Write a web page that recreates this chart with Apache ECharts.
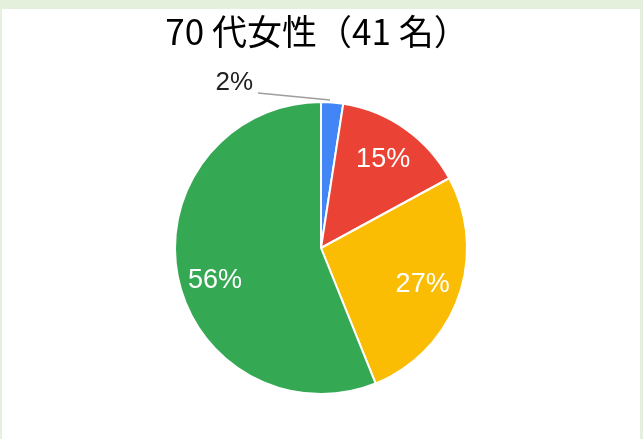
<!DOCTYPE html>
<html>
<head>
<meta charset="utf-8">
<script src="https://cdn.jsdelivr.net/npm/echarts@6/dist/echarts.min.js"></script>
<style>
  html, body { margin: 0; padding: 0; width: 643px; height: 439px; background: #e4efdc; overflow: hidden; }
  #chart { position: absolute; left: 2px; top: 9px; width: 638px; height: 430px; background: #fff; }
</style>
</head>
<body>
<div id="chart"></div>
<script>
// 70代女性 41名の内訳（人数）
const names = ['A', 'B', 'C', 'D'];
const counts = [1, 6, 11, 23];
const colors = ['#4285f4', '#ea4335', '#fbbc04', '#34a853'];
const titleText = '70 代女性（41 名）';

const chart = echarts.init(document.getElementById('chart'));

const baseData = names.map((n, i) => ({
  name: n,
  value: counts[i],
  itemStyle: { color: colors[i] }
}));

const option = {
  animation: false,
  title: {
    text: titleText,
    left: 310,
    textAlign: 'center',
    top: 0,
    textStyle: {
      fontFamily: 'Noto Sans CJK JP',
      fontSize: 35,
      fontWeight: 'normal',
      color: '#000'
    }
  },
  series: [
    {
      type: 'pie',
      center: [319, 239],
      radius: 146,
      startAngle: 90,
      clockwise: true,
      percentPrecision: 0,
      itemStyle: { borderColor: '#fff', borderWidth: 2 },
      label: { show: false },
      labelLine: { show: false },
      emphasis: { disabled: true },
      data: baseData.map((d, i) => i === 0 ? Object.assign({}, d, {
        label: {
          show: true,
          position: 'outside',
          formatter: '{d}%',
          color: '#222',
          fontFamily: 'Liberation Sans',
          fontSize: 26
        },
        labelLine: {
          show: true,
          length: 4,
          length2: 60,
          lineStyle: { color: '#9e9e9e', width: 1.5 }
        }
      }) : d),
      labelLayout: function (p) {
        if (p.dataIndex === 0) {
          return {
            x: 251, y: 74, align: 'right', verticalAlign: 'middle',
            labelLinePoints: [[328, 91], [292, 87.5], [256, 84]]
          };
        }
      }
    },
    {
      type: 'pie',
      center: [319, 239],
      radius: [64, 146],
      startAngle: 90,
      clockwise: true,
      percentPrecision: 0,
      silent: true,
      itemStyle: { color: 'rgba(0,0,0,0)' },
      label: {
        show: true,
        position: 'inside',
        formatter: '{d}%',
        color: '#fff',
        fontFamily: 'Liberation Sans',
        fontSize: 27
      },
      labelLine: { show: false },
      data: baseData.map((d, i) => ({
        name: d.name,
        value: d.value,
        itemStyle: { color: 'rgba(0,0,0,0)' },
        label: { show: i !== 0 }
      })),
      labelLayout: function (p) {
        if (p.dataIndex === 3) return { dy: 12 };
      }
    }
  ]
};

chart.setOption(option);
</script>
</body>
</html>
